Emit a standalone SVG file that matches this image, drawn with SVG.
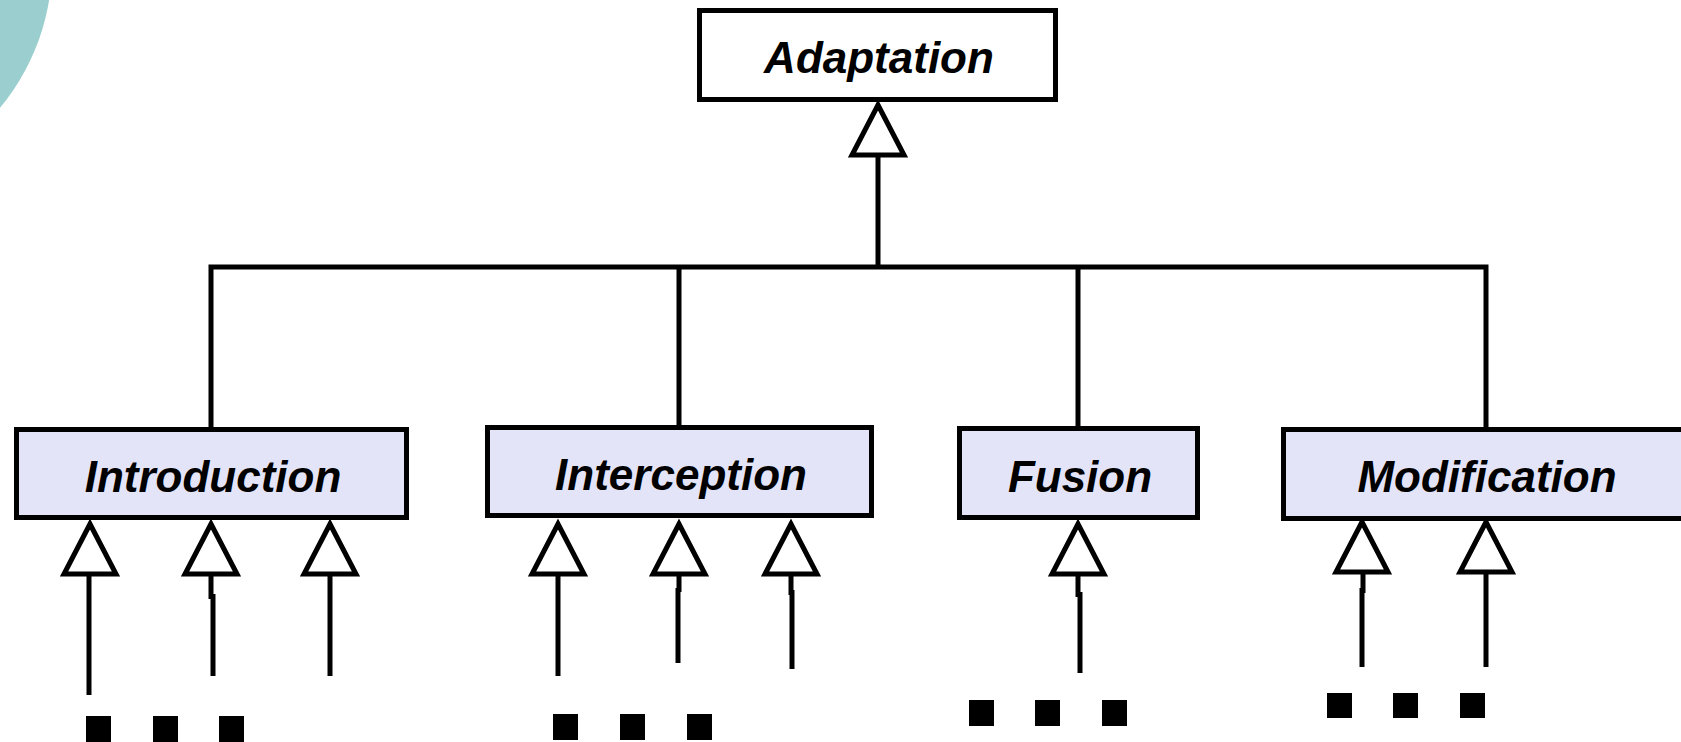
<svg xmlns="http://www.w3.org/2000/svg" width="1681" height="742" viewBox="0 0 1681 742">
  <style>
    .box { stroke: #000; stroke-width: 5; }
    .parent { fill: #ffffff; }
    .child { fill: #e4e4f8; }
    .label { font-family: "Liberation Sans", Arial, sans-serif; font-size: 44px; font-weight: bold; font-style: italic; fill: #000; text-anchor: middle; }
    .wire { stroke: #000; stroke-width: 5; fill: none; stroke-linecap: butt; }
    .head { fill: #fff; stroke: #000; stroke-width: 5; stroke-linejoin: miter; }
    .dot { fill: #000; }
  </style>
  <defs>
    <!-- hollow generalization arrowhead, apex at origin -->
    <path id="tri" class="head" d="M0,0 L-26,50 L26,50 Z"/>
  </defs>

  <!-- decorative teal disc in the corner -->
  <circle cx="-173" cy="-36" r="225" fill="#9bcfcf"/>

  <!-- connectors -->
  <g id="connectors">
    <!-- trunk from children to Adaptation -->
    <line class="wire" x1="878" y1="155" x2="878" y2="267"/>
    <polyline class="wire" points="211,428 211,267 1486,267 1486,428"/>
    <line class="wire" x1="679" y1="267" x2="679" y2="426"/>
    <line class="wire" x1="1078" y1="267" x2="1078" y2="427"/>
    <use href="#tri" x="878" y="105"/>

    <!-- Introduction subclasses -->
    <line class="wire" x1="89" y1="575" x2="89" y2="695"/>
    <line class="wire" x1="211" y1="575" x2="211" y2="599"/>
    <line class="wire" x1="213" y1="594" x2="213" y2="676"/>
    <line class="wire" x1="330" y1="575" x2="330" y2="676"/>
    <use href="#tri" x="90" y="524"/>
    <use href="#tri" x="211" y="524"/>
    <use href="#tri" x="330" y="524"/>

    <!-- Interception subclasses -->
    <line class="wire" x1="558" y1="575" x2="558" y2="676"/>
    <line class="wire" x1="679" y1="575" x2="679" y2="592"/>
    <line class="wire" x1="678" y1="588" x2="678" y2="663"/>
    <line class="wire" x1="791" y1="575" x2="791" y2="595"/>
    <line class="wire" x1="792" y1="590" x2="792" y2="669"/>
    <use href="#tri" x="558" y="524"/>
    <use href="#tri" x="679" y="524"/>
    <use href="#tri" x="791" y="524"/>

    <!-- Fusion subclass -->
    <line class="wire" x1="1078" y1="575" x2="1078" y2="597"/>
    <line class="wire" x1="1080" y1="592" x2="1080" y2="673"/>
    <use href="#tri" x="1078" y="524"/>

    <!-- Modification subclasses -->
    <line class="wire" x1="1363" y1="573" x2="1363" y2="593"/>
    <line class="wire" x1="1362" y1="588" x2="1362" y2="667"/>
    <line class="wire" x1="1486" y1="573" x2="1486" y2="667"/>
    <use href="#tri" x="1362" y="522"/>
    <use href="#tri" x="1486" y="522"/>
  </g>

  <g id="adaptation">
    <rect class="box parent" x="699.5" y="10.5" width="356" height="89"/>
    <text class="label" x="879" y="73">Adaptation</text>
  </g>

  <g id="introduction">
    <rect class="box child" x="16.5" y="429.5" width="390" height="88"/>
    <text class="label" x="213" y="492">Introduction</text>
  </g>

  <g id="interception">
    <rect class="box child" x="487.5" y="427.5" width="384" height="88"/>
    <text class="label" x="681" y="490">Interception</text>
  </g>

  <g id="fusion">
    <rect class="box child" x="959.5" y="428.5" width="238" height="89"/>
    <text class="label" x="1080" y="492">Fusion</text>
  </g>

  <g id="modification">
    <rect class="box child" x="1283.5" y="429.5" width="410" height="89"/>
    <text class="label" x="1487" y="492">Modification</text>
  </g>

  <!-- ellipsis marks below each group -->
  <g id="ellipsis-introduction">
    <rect class="dot" x="86" y="716" width="25" height="26"/>
    <rect class="dot" x="153" y="716" width="25" height="26"/>
    <rect class="dot" x="219" y="716" width="25" height="26"/>
  </g>
  <g id="ellipsis-interception">
    <rect class="dot" x="553" y="714" width="25" height="26"/>
    <rect class="dot" x="620" y="714" width="25" height="26"/>
    <rect class="dot" x="687" y="714" width="25" height="26"/>
  </g>
  <g id="ellipsis-fusion">
    <rect class="dot" x="969" y="700" width="25" height="26"/>
    <rect class="dot" x="1035" y="700" width="25" height="26"/>
    <rect class="dot" x="1102" y="700" width="25" height="26"/>
  </g>
  <g id="ellipsis-modification">
    <rect class="dot" x="1327" y="693" width="25" height="25"/>
    <rect class="dot" x="1393" y="693" width="25" height="25"/>
    <rect class="dot" x="1460" y="693" width="25" height="25"/>
  </g>
</svg>
